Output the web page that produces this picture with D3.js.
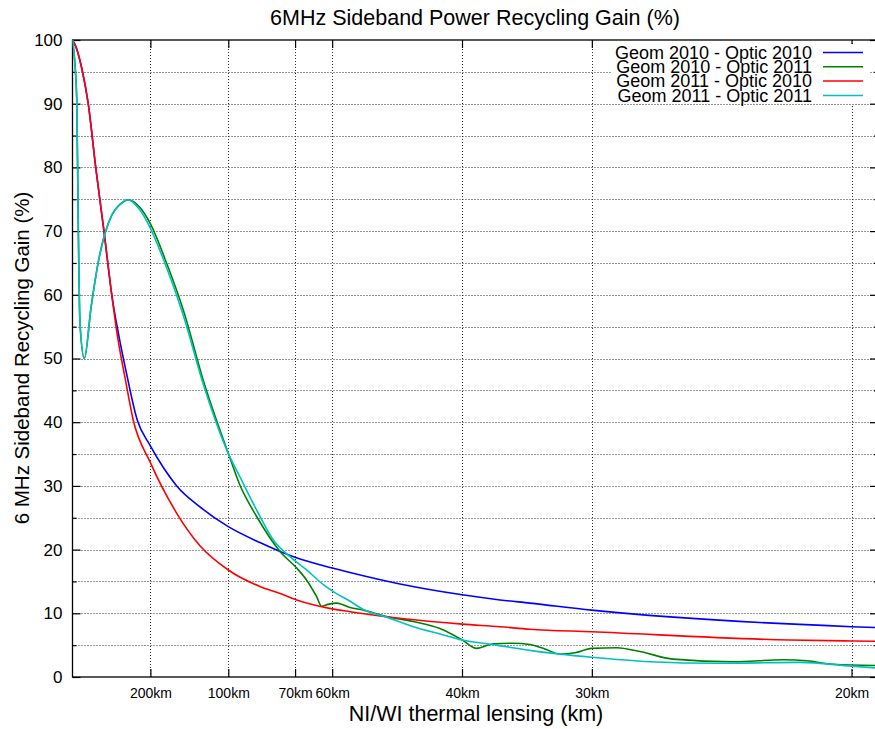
<!DOCTYPE html>
<html>
<head>
<meta charset="utf-8">
<script src="https://cdn.jsdelivr.net/npm/d3@7"></script>
<style>
html,body{margin:0;padding:0;background:#fff;}
svg{display:block;font-family:"Liberation Sans",Arial,Helvetica,sans-serif;}
</style>
</head>
<body>
<svg id="chart" width="875" height="729"></svg>
<script>
// x values are thermal lensing in micro-diopters (1/R, R in km x 1e-3)
const seriesNames = ["Geom 2010 - Optic 2010","Geom 2010 - Optic 2011","Geom 2011 - Optic 2010","Geom 2011 - Optic 2011"];
const seriesColors = ["#0000ff","#008000","#ff0000","#00c0c0"];

const blueX = [0,0.27,0.59,1.01,1.49,2.02,2.52,2.98,3.48,4.16,4.97,5.80,6.69,8.18,10.00,12.03,13.32,14.28,16.69,17.81,21.02,25.02,27.44,29.36,33.32,50.01,51.7];
const blueY = [100,98.6,95.6,90,80,70,60,53.5,47.5,40.3,36.4,33.0,30.0,26.7,23.6,21.1,19.7,18.8,17.1,16.4,14.6,12.9,12.1,11.6,10.5,7.9,7.75];

const redX = [0,0.27,0.59,1.01,1.49,2.02,2.52,2.92,3.37,3.90,4.97,6.69,8.18,10.00,12.03,13.32,14.39,16.67,17.81,25.02,27.44,29.36,33.32,46.05,50.01,51.7];
const redY = [100,98.6,95.6,90,80,70,60,53,47,40.3,33.8,25.7,20.6,16.8,14.2,13.1,12.1,10.7,10.25,8.3,7.9,7.5,7.1,5.8,5.65,5.6];

const greenX = [0,0.27,0.37,0.48,0.76,1.19,1.66,2.52,3.05,3.58,4.33,4.97,6.05,7.11,8.39,10.00,10.75,11.82,13.32,14.39,15.03,15.67,15.99,16.40,16.96,17.81,18.66,20.16,21.87,23.58,25.02,25.94,27.01,28.29,29.36,30.32,31.29,32.25,33.32,34.93,36.42,38.56,42.41,45.62,47.12,48.83,51.7];
const greenY = [100,91,71,55.5,50,58,65.2,72.5,74.2,74.9,73.7,71.3,64.9,57.6,46.6,35.1,30.1,25.2,19.7,17.1,15.2,12.6,11.1,11.4,11.6,10.9,10.5,9.5,8.7,7.6,5.8,4.5,5.2,5.3,5.1,4.4,3.6,3.8,4.5,4.6,4.0,2.8,2.4,2.7,2.55,2.0,1.8];

const cyanX = [0,0.27,0.37,0.48,0.76,1.19,1.66,2.52,3.05,3.58,4.33,4.97,6.05,7.11,8.39,10.00,10.75,11.82,12.89,13.96,15.03,16.10,16.74,17.81,18.66,20.16,21.87,23.58,25.02,27.22,29.57,33.32,37.06,41.34,46.69,50.01,51.7];
const cyanY = [100,91,71,55.5,50,58,65.2,72.5,74.2,74.9,73.3,70.6,64.2,56.8,46.0,35.1,31.4,26.2,21.5,18.9,16.8,14.5,13.4,11.9,10.6,9.4,7.9,6.75,5.8,5.0,4.1,3.1,2.4,2.15,2.3,1.7,1.4];

const xTickKm = [200,100,70,60,40,30,20];
const xTickLabels = ["200km","100km","70km","60km","40km","30km","20km"];
const yMajorTicks = [0,10,20,30,40,50,60,70,80,90,100];
const yGridTicks = [5,10,15,20,25,30,35,40,45,50,55,60,65,70,75,80,85,90,95];

const svg = d3.select("#chart");
const L = 72.5, R = 878, T = 40, B = 677;
const x = d3.scaleLinear().domain([0, 51.7]).range([L, R]);
const y = d3.scaleLinear().domain([0, 100]).range([B, T]);

svg.append("defs").append("clipPath").attr("id","clip").append("rect")
  .attr("x", L).attr("y", T).attr("width", R - L).attr("height", B - T);

// grid
const grid = svg.append("g");
grid.selectAll("line.hg").data(yGridTicks).join("line")
  .attr("x1", L).attr("x2", R).attr("y1", d => Math.round(y(d)) + 0.5).attr("y2", d => Math.round(y(d)) + 0.5)
  .attr("stroke", "#333").attr("stroke-width", 1).attr("stroke-dasharray", "1,2");
grid.selectAll("line.vg").data(xTickKm).join("line")
  .attr("x1", d => Math.round(x(1000 / d)) + 0.5).attr("x2", d => Math.round(x(1000 / d)) + 0.5)
  .attr("y1", T).attr("y2", B)
  .attr("stroke", "#333").attr("stroke-width", 1).attr("stroke-dasharray", "1,2");

// axes with inward ticks
const xAxisB = d3.axisBottom(x).tickValues(xTickKm.map(d => 1000 / d)).tickFormat((d, i) => xTickLabels[i]).tickSizeInner(-8).tickSizeOuter(0).tickPadding(11);
const gxb = svg.append("g").attr("transform", `translate(0,${B})`).call(xAxisB);
const xAxisT = d3.axisTop(x).tickValues(xTickKm.map(d => 1000 / d)).tickFormat("").tickSizeInner(-8).tickSizeOuter(0);
svg.append("g").attr("transform", `translate(0,${T})`).call(xAxisT);

const yAxisL = d3.axisLeft(y).tickValues(yMajorTicks).tickFormat(d3.format("d")).tickSizeInner(-8).tickSizeOuter(0).tickPadding(10);
const gyl = svg.append("g").attr("transform", `translate(${L},0)`).call(yAxisL);
const yMinorL = d3.axisLeft(y).tickValues(yGridTicks.filter(d => d % 10 !== 0)).tickFormat("").tickSizeInner(-4).tickSizeOuter(0);
svg.append("g").attr("transform", `translate(${L},0)`).call(yMinorL);
const yAxisR = d3.axisRight(y).tickValues(yMajorTicks).tickFormat("").tickSizeInner(-8).tickSizeOuter(0);
svg.append("g").attr("transform", `translate(${R},0)`).call(yAxisR);
const yMinorR = d3.axisRight(y).tickValues(yGridTicks.filter(d => d % 10 !== 0)).tickFormat("").tickSizeInner(-4).tickSizeOuter(0);
svg.append("g").attr("transform", `translate(${R},0)`).call(yMinorR);

svg.selectAll(".domain").remove();
svg.selectAll(".tick line").attr("stroke", "#000").attr("stroke-width", 1.2);
gxb.selectAll("text").attr("font-size", 14).attr("fill", "#000");
gyl.selectAll("text").attr("font-size", 17).attr("fill", "#000");

// border
svg.append("rect").attr("x", L).attr("y", T).attr("width", R - L).attr("height", B - T)
  .attr("fill", "none").attr("stroke", "#000").attr("stroke-width", 1.3);

// legend background
svg.append("rect").attr("x", 612).attr("y", 44).attr("width", 258).attr("height", 60).attr("fill", "#fff");

// lines
const allSeries = [
  {xs: blueX, ys: blueY},
  {xs: greenX, ys: greenY},
  {xs: redX, ys: redY},
  {xs: cyanX, ys: cyanY}
];
const line = d3.line().x(d => x(d[0])).y(d => y(d[1])).curve(d3.curveMonotoneX);
const lg = svg.append("g").attr("clip-path", "url(#clip)");
allSeries.forEach((s, i) => {
  lg.append("path").datum(s.xs.map((v, j) => [v, s.ys[j]]))
    .attr("d", line).attr("fill", "none")
    .attr("stroke", seriesColors[i]).attr("stroke-width", 1.6).attr("stroke-linejoin", "round");
});

// legend
const legY = [52.5, 66.8, 81, 95.5];
seriesNames.forEach((n, i) => {
  svg.append("text").attr("x", 812).attr("y", legY[i]).attr("dy", "0.35em")
    .attr("text-anchor", "end").attr("font-size", 18).attr("fill", "#000").text(n);
  svg.append("line").attr("x1", 823).attr("x2", 863).attr("y1", legY[i]).attr("y2", legY[i])
    .attr("stroke", seriesColors[i]).attr("stroke-width", 1.6);
});

// titles
svg.append("text").attr("x", 475).attr("y", 25).attr("text-anchor", "middle")
  .attr("font-size", 21.5).attr("fill", "#000").text("6MHz Sideband Power Recycling Gain (%)");
svg.append("text").attr("x", 476).attr("y", 721).attr("text-anchor", "middle")
  .attr("font-size", 21.5).attr("fill", "#000").text("NI/WI thermal lensing (km)");
svg.append("text").attr("transform", "translate(29,358) rotate(-90)").attr("text-anchor", "middle")
  .attr("font-size", 20.5).attr("fill", "#000").text("6 MHz Sideband Recycling Gain (%)");
</script>
</body>
</html>
